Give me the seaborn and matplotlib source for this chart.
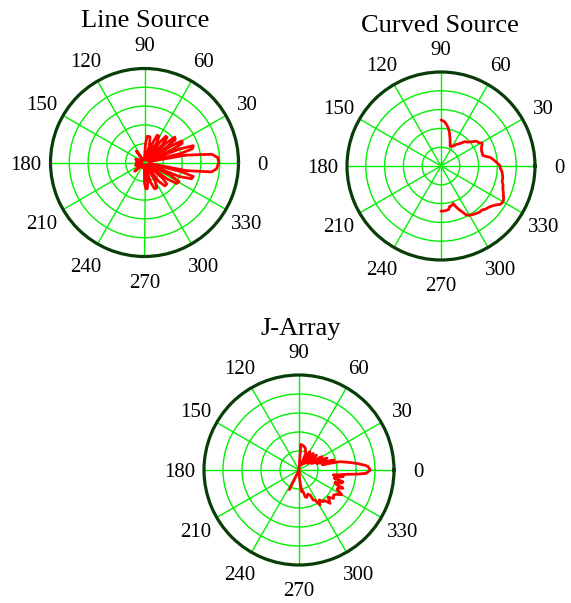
import numpy as np
import pandas as pd
import matplotlib
matplotlib.use("Agg")
import matplotlib.pyplot as plt
import seaborn as sns

sns.set_style("white")
plt.rcParams["font.family"] = ["Liberation Serif", "DejaVu Serif"]
plt.rcParams["text.color"] = "black"
plt.rcParams["xtick.color"] = "black"

# ---------------- data (angle in degrees, normalised radius) ----------------
titles = ["Line Source", "Curved Source", "J-Array"]
angle_ticks = [0, 30, 60, 90, 120, 150, 180, 210, 240, 270, 300, 330]
angle_labels = ["0", "30", "60", "90", "120", "150", "180", "210", "240", "270", "300", "330"]
ring_levels = [0.2, 0.4, 0.6, 0.8]

ls_deg = [-93, -90, -87, -84, -81, -76, -73, -69, -64, -60, -56, -53, -49, -44, -41, -38,
          -36, -33, -29, -26, -24, -22, -19, -16, -14, -12, -11, -8, -5, 0, 4, 7, 10, 12,
          14, 16, 19, 21, 23, 25, 27, 30, 32, 34, 35, 37, 40, 42, 44, 45, 48, 51, 53, 56,
          58, 61, 65, 67, 71, 74, 78, 84, 87, 92, 105, 118, 125, 131, 150, 160, 168, 180,
          190, 198, 206, 222, 230, 250, 267]
ls_r = [0.03, 0.22, 0.28, 0.28, 0.22, 0.03, 0.22, 0.30, 0.30, 0.22, 0.03, 0.25, 0.33, 0.33, 0.25, 0.03,
        0.30, 0.41, 0.42, 0.30, 0.04, 0.40, 0.53, 0.54, 0.40, 0.05, 0.45, 0.72, 0.77, 0.79, 0.78, 0.72, 0.45, 0.05,
        0.40, 0.53, 0.55, 0.40, 0.05, 0.33, 0.45, 0.46, 0.33, 0.04, 0.30, 0.41, 0.42, 0.30, 0.04, 0.27, 0.36, 0.36, 0.27, 0.03,
        0.24, 0.32, 0.32, 0.24, 0.03, 0.20, 0.28, 0.28, 0.20, 0.03, 0.04, 0.03, 0.15, 0.03, 0.05, 0.10, 0.03, 0.09,
        0.03, 0.10, 0.03, 0.14, 0.03, 0.06, 0.03]

cs_deg = [90, 87, 85, 82, 79, 76, 72, 68, 65, 62, 58, 55, 50, 46, 42, 38, 35, 32, 29, 27,
          24, 20, 17, 14, 12, 10, 8, 6, 4, 2, 0, -2, -5, -8, -11, -14, -17, -20, -23, -26,
          -29, -31, -33, -35, -38, -41, -44, -47, -50, -53, -56, -59, -61, -63, -65, -67, -70, -72, -74, -76,
          -78, -80, -83, -86, -90]
cs_r = [0.49, 0.48, 0.47, 0.44, 0.41, 0.37, 0.31, 0.26, 0.23, 0.24, 0.25, 0.28, 0.31, 0.36, 0.38, 0.42, 0.46, 0.47, 0.50, 0.49,
        0.47, 0.46, 0.46, 0.46, 0.49, 0.53, 0.55, 0.57, 0.59, 0.61, 0.63, 0.63, 0.65, 0.66, 0.67, 0.67, 0.69, 0.70, 0.72, 0.74,
        0.76, 0.76, 0.75, 0.72, 0.69, 0.67, 0.66, 0.64, 0.64, 0.63, 0.62, 0.61, 0.60, 0.58, 0.54, 0.51, 0.46, 0.42, 0.43, 0.44,
        0.44, 0.47, 0.475, 0.48, 0.48]

ja_deg = [244, 244, 86, 80, 74, 68, 66, 59, 55, 49, 45, 40, 36, 30, 27, 23, 20, 16, 13, 11.5,
          9, 6.6, 4, 2.7, 0, -2.8, -4, -5.2, -7, -8.3, -8.5, -11, -13, -15, -17, -19, -21, -22.5, -25, -27,
          -30, -33, -36, -39.5, -43, -47, -50, -52.5, -56, -59, -62, -64.5, -66, -70, -74, -77, -80, -83, -84, -86, -88]
ja_r = [0.23, 0.0, 0.27, 0.26, 0.24, 0.19, 0.06, 0.225, 0.08, 0.23, 0.10, 0.24, 0.12, 0.28, 0.15, 0.32, 0.20, 0.38, 0.25, 0.44,
        0.52, 0.61, 0.70, 0.73, 0.75, 0.71, 0.62, 0.50, 0.42, 0.365, 0.47, 0.40, 0.38, 0.48, 0.47, 0.40, 0.42, 0.50, 0.45, 0.45,
        0.52, 0.47, 0.45, 0.47, 0.42, 0.48, 0.42, 0.42, 0.38, 0.43, 0.36, 0.35, 0.29, 0.27, 0.30, 0.29, 0.22, 0.23, 0.16, 0.10, 0.0]

series = [(ls_deg, ls_r, True), (cs_deg, cs_r, False), (ja_deg, ja_r, False)]

# ---------------- layout (pixels of the 571x603 canvas) ----------------
W, H = 571, 603
centers = [(144.5, 162.5, 94), (441, 166, 94), (299, 470, 95)]
title_pos = [(145, 27), (440, 32), (301, 335)]

fig = plt.figure(figsize=(W / 100, H / 100), dpi=100)

for (deg, r, closed), (cx, cy, R), title, (tx, ty) in zip(series, centers, titles, title_pos):
    ax = fig.add_axes([(cx - R) / W, (H - cy - R) / H, 2 * R / W, 2 * R / H], projection="polar")
    d = list(deg)
    rr = list(r)
    if closed:
        d = d + [d[0] + 360]
        rr = rr + [rr[0]]
    df = pd.DataFrame({"theta": np.deg2rad(d), "r": rr})
    sns.lineplot(data=df, x="theta", y="r", ax=ax, sort=False, estimator=None,
                 color="#ff0000", lw=2.0, zorder=3)
    ax.set_xlabel("")
    ax.set_ylabel("")
    ax.set_ylim(0, 1)
    ax.set_rgrids(ring_levels, labels=[""] * len(ring_levels))
    ax.set_thetagrids(angle_ticks, labels=angle_labels)
    ax.tick_params(axis="x", pad=7, labelsize=15, colors="black")
    for lab in ax.get_xticklabels():
        lab.set_verticalalignment("center_baseline")
    ax.grid(True, color="#00f000", lw=1.0)
    ax.spines["polar"].set_color("#083d08")
    ax.spines["polar"].set_linewidth(2.3)
    ax.set_facecolor("white")
    fig.text(tx / W, 1 - ty / H, title, ha="center", va="baseline", fontsize=19, color="black")

fig.savefig("out.png", dpi=100)
